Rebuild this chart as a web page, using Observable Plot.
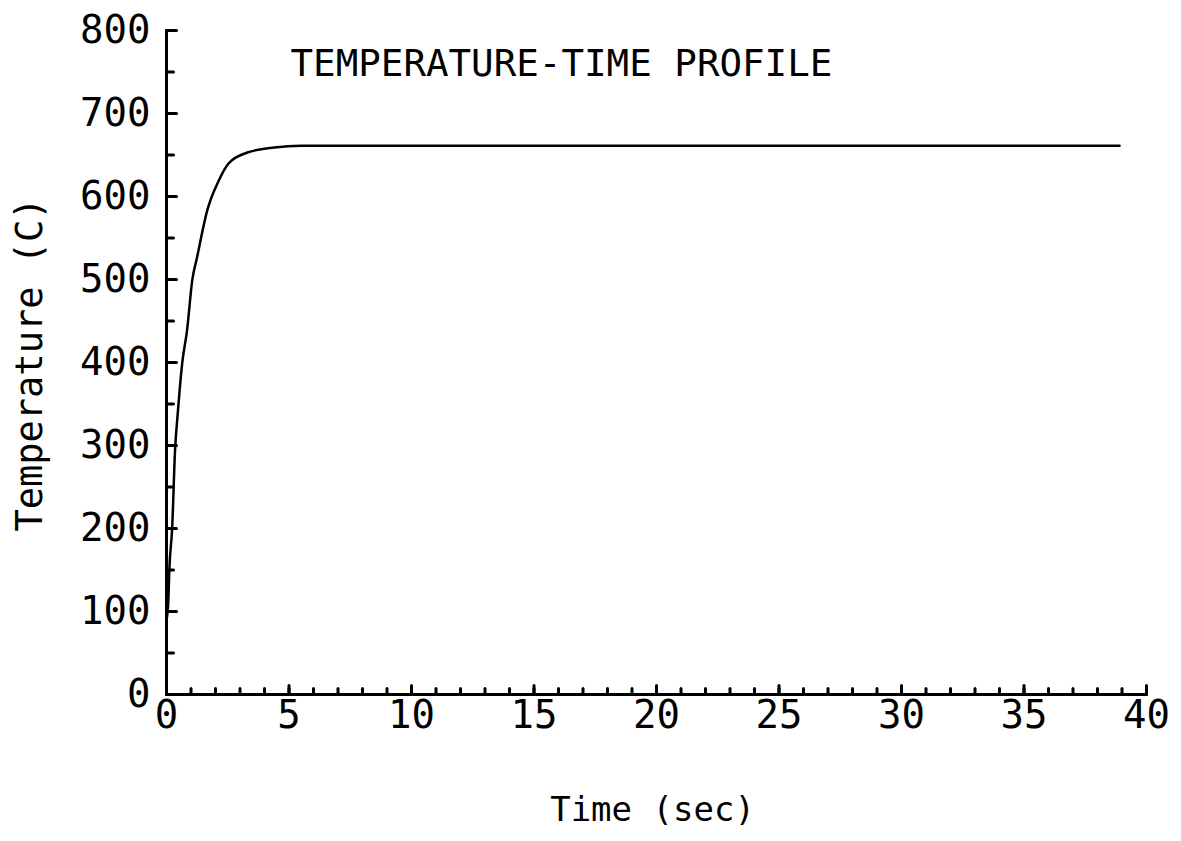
<!DOCTYPE html>
<html>
<head>
<meta charset="utf-8">
<script src="https://cdn.jsdelivr.net/npm/d3@7"></script>
<script src="https://cdn.jsdelivr.net/npm/@observablehq/plot@0.6"></script>
<style>
  html, body { margin: 0; padding: 0; background: #fff; }
  #chart svg { display: block; }
  #chart svg text {
    font-variant-numeric: slashed-zero;
    font-feature-settings: "zero" 1;
  }
</style>
</head>
<body>
<div id="chart"></div>
<script>
// Data
const times = [0, 0.07, 0.12, 0.23, 0.35, 0.46, 0.64, 0.84, 1.05, 1.25, 1.66, 2.13, 2.54, 3.3, 4.4, 5.5, 7, 10, 15, 20, 25, 30, 35, 38.9];
const temps = [90, 110, 153, 200, 295, 339, 399, 439, 499, 527, 583, 619, 640, 653, 659, 661, 661, 661, 661, 661, 661, 661, 661, 661];

const xMajorTicks = [0, 5, 10, 15, 20, 25, 30, 35, 40];
const xMinorTicks = d3.range(0, 41, 1);
const yMajorTicks = [0, 100, 200, 300, 400, 500, 600, 700, 800];
const yMinorTicks = d3.range(0, 801, 50);

const titleText = "TEMPERATURE-TIME PROFILE";
const xLabel = "Time (sec)";
const yLabel = "Temperature (C)";

const rows = times.map((t, i) => ({t, T: temps[i]}));

const monoFont = "DejaVu Sans Mono";

// a plain line segment shape for inward tick marks
const tickShape = {draw(context, l) { context.moveTo(0, 0); context.lineTo(0, -l); }};

const chart = Plot.plot({
  width: 1181,
  height: 841,
  marginLeft: 166,
  marginRight: 35,
  marginTop: 30,
  marginBottom: 147,
  style: {background: "#fff", color: "#000", overflow: "visible", fontFamily: monoFont},
  x: {domain: [0, 40]},
  y: {domain: [0, 800]},
  marks: [
    // inward ticks (minor and major)
    Plot.vector(xMinorTicks, {x: d => d, y: 0, length: 6, rotate: 0, anchor: "start", shape: tickShape, strokeWidth: 3, stroke: "#000"}),
    Plot.vector(xMajorTicks, {x: d => d, y: 0, length: 9, rotate: 0, anchor: "start", shape: tickShape, strokeWidth: 3, stroke: "#000"}),
    Plot.vector(yMinorTicks, {x: 0, y: d => d, length: 7, rotate: 90, anchor: "start", shape: tickShape, strokeWidth: 3, stroke: "#000"}),
    Plot.vector(yMajorTicks, {x: 0, y: d => d, length: 10, rotate: 90, anchor: "start", shape: tickShape, strokeWidth: 3, stroke: "#000"}),
    // tick labels
    Plot.axisX(xMajorTicks, {tickSize: 0, tickPadding: 6, label: null, fontSize: 39, fontFamily: monoFont}),
    Plot.axisY(yMajorTicks, {tickSize: 0, tickPadding: 16, label: null, fontSize: 39, fontFamily: monoFont}),
    // axis lines
    Plot.ruleY([0], {strokeWidth: 3}),
    Plot.ruleX([0], {strokeWidth: 3}),
    // curve
    Plot.line(rows, {x: "t", y: "T", curve: "monotone-x", strokeWidth: 2.5, stroke: "#000"}),
    // title and axis labels
    Plot.text([titleText], {text: d => d, frameAnchor: "top-left", dx: 124, dy: 33, textAnchor: "start", lineAnchor: "middle", fontSize: 37.5, fontFamily: monoFont}),
    Plot.text([xLabel], {text: d => d, frameAnchor: "bottom", dx: -4, dy: 116, textAnchor: "middle", lineAnchor: "middle", fontSize: 34, fontFamily: monoFont}),
    Plot.text([yLabel], {text: d => d, frameAnchor: "left", dx: -136, dy: 2, rotate: -90, textAnchor: "middle", lineAnchor: "middle", fontSize: 37, fontFamily: monoFont})
  ]
});
document.getElementById("chart").append(chart);
</script>
</body>
</html>
